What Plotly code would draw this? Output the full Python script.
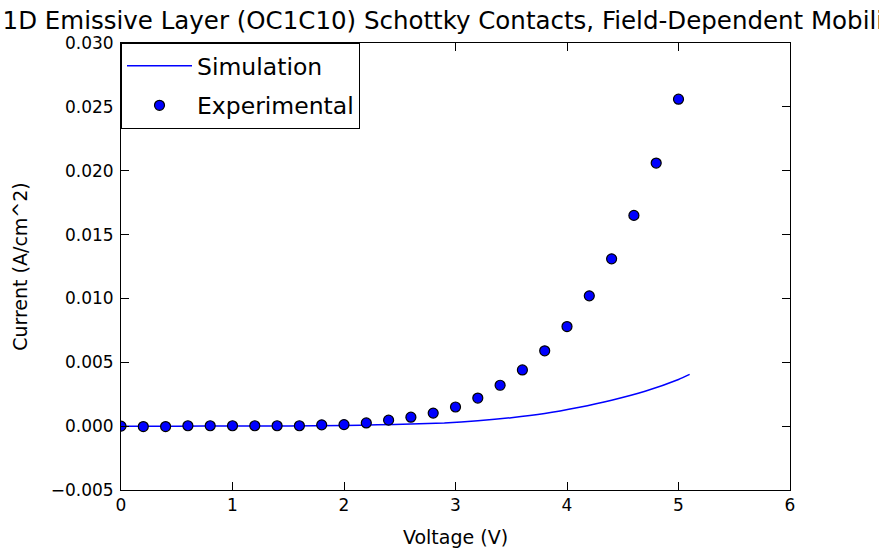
import plotly.graph_objects as go

# Experimental data
exp_v = [0.0, 0.2, 0.4, 0.6, 0.8, 1.0, 1.2, 1.4, 1.6, 1.8, 2.0, 2.2, 2.4,
         2.6, 2.8, 3.0, 3.2, 3.4, 3.6, 3.8, 4.0, 4.2, 4.4, 4.6, 4.8, 5.0]
exp_i = [0.0, -0.00003, -0.00003, 0.00003, 0.00003, 0.00003, 0.00003, 0.00003,
         0.00003, 0.0001, 0.00012, 0.00025, 0.00047, 0.0007, 0.00102, 0.0015,
         0.0022, 0.0032, 0.0044, 0.0059, 0.0078, 0.0102, 0.0131, 0.0165,
         0.0206, 0.0256]

# Simulation curve
sim_v = [0.0, 0.5, 1.0, 1.5, 2.0, 2.3, 2.6, 2.9, 3.2, 3.5, 3.8, 4.1,
         4.4, 4.7, 5.0, 5.1]
sim_i = [0.0, 0.0, 0.00001, 0.00002, 0.00005, 0.0001, 0.00016, 0.00025,
         0.00042, 0.00066, 0.00099, 0.00146, 0.00203, 0.00273, 0.00365,
         0.00405]

x_ticks = [0, 1, 2, 3, 4, 5, 6]
y_ticks = [-0.005, 0.0, 0.005, 0.010, 0.015, 0.020, 0.025, 0.030]

FONT = "DejaVu Sans"

fig = go.Figure()
fig.add_trace(go.Scatter(x=sim_v, y=sim_i, mode="lines", name="Simulation",
                         legendgroup="sim",
                         line=dict(color="#0000ff", width=1.5, shape="spline",
                                   smoothing=0.6)))
fig.add_trace(go.Scatter(x=exp_v, y=exp_i, mode="markers", name="Experimental",
                         legendgroup="exp",
                         marker=dict(color="#0000ff", size=10,
                                     line=dict(color="black", width=1.2))))

axis_common = dict(showline=True, linecolor="black", linewidth=1, mirror="ticks",
                   ticks="inside", ticklen=8, tickcolor="black", showgrid=False,
                   zeroline=False, automargin=False,
                   tickfont=dict(family=FONT, size=17, color="black"))

fig.update_layout(
    width=879, height=550,
    margin=dict(l=121, r=89, t=43, b=60),
    paper_bgcolor="white", plot_bgcolor="white",
    font=dict(family=FONT, color="black"),
    title=dict(text="1D Emissive Layer (OC1C10) Schottky Contacts, Field-Dependent Mobility",
               x=0.5175, xanchor="center", y=0.9636, yanchor="middle",
               font=dict(family=FONT, size=24.5, color="black")),
    xaxis=dict(range=[0, 6], tickvals=x_ticks,
               title=dict(text="Voltage (V)", font=dict(family=FONT, size=19), standoff=16),
               **axis_common),
    yaxis=dict(range=[-0.005, 0.030], tickvals=y_ticks, tickformat=".3f",
               ticklabelstandoff=3, **axis_common),
    legend=dict(x=0, y=1, xanchor="left", yanchor="top", bgcolor="white",
                bordercolor="black", borderwidth=1, itemwidth=65,
                tracegroupgap=6,
                font=dict(family=FONT, size=23.5, color="black")),
    showlegend=True,
)
fig.add_annotation(text="Current (A/cm^2)", xref="paper", yref="paper",
                   x=-0.152, y=0.5, xanchor="center", yanchor="middle",
                   textangle=-90, showarrow=False,
                   font=dict(family=FONT, size=19, color="black"))

fig.write_html("out.html")
